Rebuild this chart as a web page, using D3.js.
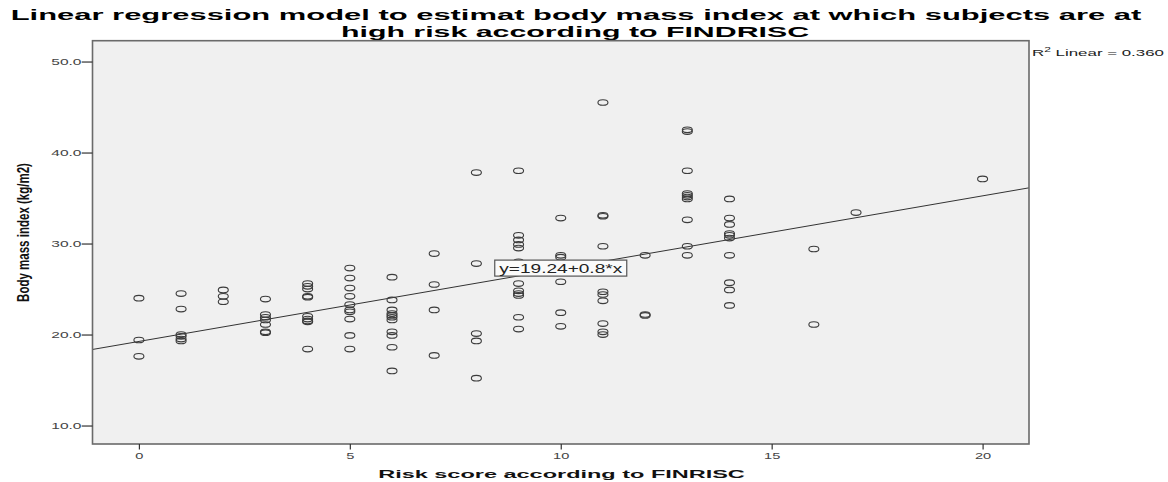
<!DOCTYPE html>
<html><head><meta charset="utf-8">
<script src="https://cdn.jsdelivr.net/npm/d3@7"></script>
<style>html,body{margin:0;padding:0;background:#fff;} svg{display:block}</style>
</head><body><svg id="c" width="1168" height="482"></svg>
<script>
// ---------- data ----------
const titleLines = [
  "Linear regression model to estimat body mass index at which subjects are at",
  "high risk according to FINDRISC"
];
const xLabel = "Risk score according to FINRISC";
const yLabel = "Body mass index (kg/m2)";
const xTicks = [0, 5, 10, 15, 20];
const yTicks = [10, 20, 30, 40, 50];
const riskScore = [
  0,0,0,
  1,1,1,1,1,1,
  2,2,2,
  3,3,3,3,3,3,3,
  4,4,4,4,4,4,4,4,4,4,
  5,5,5,5,5,5,5,5,5,5,
  6,6,6,6,6,6,6,6,6,6,6,
  7,7,7,7,
  8,8,8,8,8,
  9,9,9,9,9,9,9,9,9,9,9,9,
  10,10,10,10,10,10,
  11,11,11,11,11,11,11,11,11,11,
  12,12,12,
  13,13,13,13,13,13,13,13,13,13,
  14,14,14,14,14,14,14,14,14,14,
  16,16,
  17,
  20
];
const bmi = [
  24.0,19.4,17.6,
  24.5,22.8,20.0,19.8,19.5,19.3,
  24.9,24.2,23.6,
  23.9,22.2,21.9,21.6,21.1,20.3,20.2,
  25.6,25.3,25.0,24.2,24.1,22.0,21.7,21.5,21.4,18.4,
  27.3,26.2,25.1,24.2,23.3,22.7,22.5,21.7,19.9,18.4,
  26.3,23.8,22.7,22.3,22.1,21.9,21.6,20.3,19.9,18.6,16.0,
  28.9,25.5,22.7,17.7,
  37.8,27.8,20.1,19.3,15.2,
  38.0,30.9,30.4,29.9,29.5,28.0,25.6,24.8,24.5,24.3,21.9,20.6,
  32.8,28.7,28.5,25.8,22.4,20.9,
  45.5,33.1,33.0,29.7,24.7,24.4,23.7,21.2,20.3,20.0,
  28.7,22.2,22.1,
  42.5,42.3,38.0,35.5,35.3,35.1,34.9,32.6,29.7,28.7,
  34.9,32.8,32.1,31.1,30.9,30.6,28.7,25.7,24.9,23.2,
  29.4,21.1,
  33.4,
  37.1
];
const fitIntercept = 19.24;
const fitSlope = 0.8;
const fitLabel = "y=19.24+0.8*x";
const fitLabelAt = [10.0, 27.3];
const r2Text = "0.360";

// ---------- layout ----------
const svg = d3.select("#c");
const L = 92.5, R = 1029, T = 40.7, B = 444;
const x = d3.scaleLinear().domain([-1.1, 21.1]).range([L, R]);
const y = d3.scaleLinear().domain([7.97, 52.29]).range([B, T]);
const font = "'Liberation Sans', Arial, sans-serif";

function fitText(sel, tx, ty, width, extra) {
  const w = sel.node().getComputedTextLength();
  sel.attr("transform", `translate(${tx},${ty}) ${extra || ""} scale(${width / w},1)`);
}

// title
const t1 = svg.append("text").text(titleLines[0])
  .attr("font-family", font).attr("font-weight", "bold").attr("font-size", 15.2)
  .attr("text-anchor", "middle").attr("fill", "#000");
fitText(t1, 576, 19.8, 1130);
const t2 = svg.append("text").text(titleLines[1])
  .attr("font-family", font).attr("font-weight", "bold").attr("font-size", 15.2)
  .attr("text-anchor", "middle").attr("fill", "#000");
fitText(t2, 575, 36.6, 468);

// plot background
svg.append("rect").attr("x", L).attr("y", T).attr("width", R - L).attr("height", B - T)
  .attr("fill", "#f0f0f0");

svg.append("clipPath").attr("id", "clip").append("rect")
  .attr("x", L).attr("y", T).attr("width", R - L).attr("height", B - T);
const plot = svg.append("g").attr("clip-path", "url(#clip)");

// regression line
const xd = x.domain();
plot.append("line")
  .attr("x1", x(xd[0])).attr("y1", y(fitIntercept + fitSlope * xd[0]))
  .attr("x2", x(xd[1])).attr("y2", y(fitIntercept + fitSlope * xd[1]))
  .attr("stroke", "#333").attr("stroke-width", 1);

// points
plot.selectAll("ellipse.pt").data(d3.range(bmi.length)).join("ellipse")
  .attr("class", "pt")
  .attr("cx", i => x(riskScore[i])).attr("cy", i => y(bmi[i]))
  .attr("rx", 5).attr("ry", 2.8)
  .attr("fill", "none").attr("stroke", "#3c3c3c").attr("stroke-width", 1.1);

// fit label box
const bx = x(fitLabelAt[0]), by = y(fitLabelAt[1]);
svg.append("rect").attr("x", bx - 66).attr("y", by - 8).attr("width", 132).attr("height", 16)
  .attr("fill", "#fafafa").attr("stroke", "#555").attr("stroke-width", 1.2);
const fl = svg.append("text").text(fitLabel)
  .attr("font-family", font).attr("font-size", 12).attr("text-anchor", "middle").attr("fill", "#222");
fitText(fl, bx, by + 4.4, 123);

// frame
svg.append("rect").attr("x", L).attr("y", T).attr("width", R - L).attr("height", B - T)
  .attr("fill", "none").attr("stroke", "#6a6a6a").attr("stroke-width", 1.6);

// x axis
const gx = svg.append("g").attr("transform", `translate(0,${B})`)
  .call(d3.axisBottom(x).tickValues(xTicks).tickSize(5.5).tickFormat(d3.format("d")));
gx.select(".domain").remove();
gx.selectAll(".tick line").attr("stroke", "#333").attr("stroke-width", 1.2);
gx.selectAll(".tick text").each(function () {
  const s = d3.select(this).attr("y", null).attr("dy", null)
    .attr("font-family", font).attr("font-size", 8.6).attr("fill", "#444");
  s.attr("transform", "translate(0,15) scale(1.7,1)");
});

// y axis
const gy = svg.append("g").attr("transform", `translate(${L},0)`)
  .call(d3.axisLeft(y).tickValues(yTicks).tickSize(10.8).tickFormat(d3.format(".1f")));
gy.select(".domain").remove();
gy.selectAll(".tick line").attr("stroke", "#333").attr("stroke-width", 1.2);
gy.selectAll(".tick text").each(function () {
  const s = d3.select(this).attr("x", null).attr("dy", null)
    .attr("font-family", font).attr("font-size", 8.4).attr("fill", "#444").attr("text-anchor", "end");
  s.attr("transform", "translate(-11,3.3) scale(1.85,1)");
});

// axis titles
const xl = svg.append("text").text(xLabel)
  .attr("font-family", font).attr("font-weight", "bold").attr("font-size", 11.8)
  .attr("text-anchor", "middle").attr("fill", "#111");
fitText(xl, 561.5, 477.7, 367);
const yl = svg.append("text").text(yLabel)
  .attr("font-family", font).attr("font-weight", "bold").attr("font-size", 16.5)
  .attr("text-anchor", "middle").attr("fill", "#111");
{
  const w = yl.node().getComputedTextLength();
  yl.attr("transform", `translate(29,232.5) rotate(-90) scale(${139 / w},1)`);
}

// R2 label
const r2 = svg.append("text").attr("font-family", font).attr("font-size", 9.8).attr("fill", "#222");
r2.append("tspan").text("R");
r2.append("tspan").text("2").attr("font-size", 7).attr("dy", -3.5);
r2.append("tspan").text(" Linear = " + r2Text).attr("dy", 3.5);
{
  const w = r2.node().getBBox().width;
  r2.attr("transform", `translate(1032,55.7) scale(${133 / w},1)`);
}
</script>
</body></html>
